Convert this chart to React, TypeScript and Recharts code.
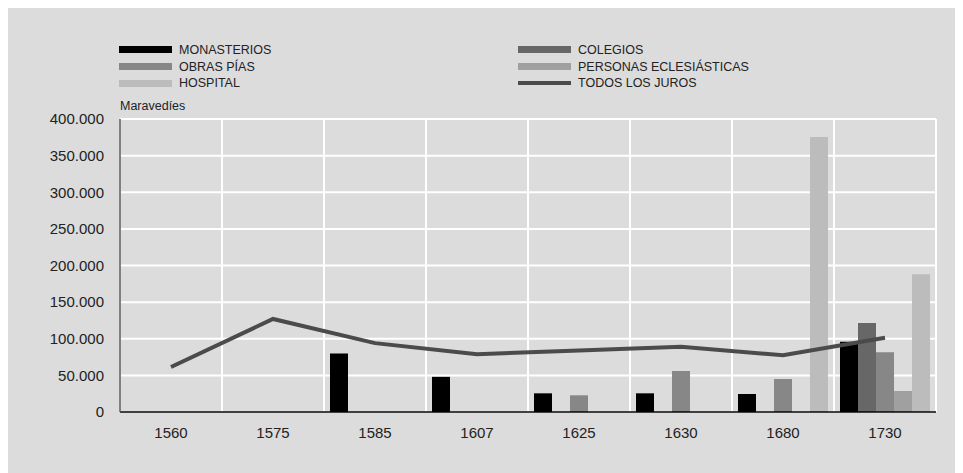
import React from 'react';
import { ComposedChart, Bar, Line, XAxis, YAxis, CartesianGrid } from 'recharts';

const categories = ['1560', '1575', '1585', '1607', '1625', '1630', '1680', '1730'];
const monasterios = [null, null, 80000, 48000, 25500, 25500, 24600, 96000];
const colegios = [null, null, null, null, null, null, null, 121500];
const obrasPias = [null, null, null, null, 22800, 56000, 45000, 81500];
const personasEclesiasticas = [null, null, null, null, null, null, null, 28700];
const hospital = [null, null, null, null, null, null, 375400, 188000];
const todosLosJuros = [61500, 127000, 94000, 78800, 84000, 89000, 77400, 101400];
const yTicks = [0, 50000, 100000, 150000, 200000, 250000, 300000, 350000, 400000];

const COLORS = {
  monasterios: '#000000',
  colegios: '#676767',
  obrasPias: '#878787',
  personas: '#a0a0a0',
  hospital: '#bcbcbc',
  juros: '#4b4b4b',
};

const data = categories.map((c, i) => ({
  year: c,
  monasterios: monasterios[i],
  colegios: colegios[i],
  obrasPias: obrasPias[i],
  personas: personasEclesiasticas[i],
  hospital: hospital[i],
  juros: todosLosJuros[i],
}));

const fmt = (v: number) => String(v).replace(/\B(?=(\d{3})+(?!\d))/g, '.');

const FONT = '"Liberation Sans", Arial, Helvetica, sans-serif';

const legendLeft = [
  { label: 'MONASTERIOS', color: COLORS.monasterios, line: false },
  { label: 'OBRAS PÍAS', color: COLORS.obrasPias, line: false },
  { label: 'HOSPITAL', color: COLORS.hospital, line: false },
];
const legendRight = [
  { label: 'COLEGIOS', color: COLORS.colegios, line: false },
  { label: 'PERSONAS ECLESIÁSTICAS', color: COLORS.personas, line: false },
  { label: 'TODOS LOS JUROS', color: COLORS.juros, line: true },
];
const rowCenters = [41.5, 58.8, 75.2];

function LegendItem({ x, y, item }: any) {
  return (
    <div style={{ position: 'absolute', left: x, top: y - 9, height: 18, display: 'flex', alignItems: 'center' }}>
      <div style={{ width: 53, height: item.line ? 4 : 7, background: item.color }} />
      <span style={{ marginLeft: 7, fontFamily: FONT, fontSize: 12.5, color: '#222', whiteSpace: 'nowrap' }}>{item.label}</span>
    </div>
  );
}

export default function App() {
  return (
    <div style={{ position: 'relative', width: 955, height: 465, background: '#dcdcdc' }}>
      {legendLeft.map((it, i) => (
        <LegendItem key={it.label} x={111} y={rowCenters[i]} item={it} />
      ))}
      {legendRight.map((it, i) => (
        <LegendItem key={it.label} x={510} y={rowCenters[i]} item={it} />
      ))}
      <div style={{ position: 'absolute', left: 112, top: 91, fontFamily: FONT, fontSize: 12.5, color: '#222' }}>Maravedíes</div>
      <ComposedChart
        width={955}
        height={465}
        data={data}
        margin={{ top: 111, right: 27, bottom: 31, left: 0 }}
        barCategoryGap={6}
        barGap={0}
        style={{ position: 'absolute', left: 0, top: 0 }}
      >
        <CartesianGrid
          stroke="#ffffff"
          strokeWidth={2}
          verticalCoordinatesGenerator={({ offset }: any) =>
            Array.from({ length: categories.length + 1 }, (_, i) => offset.left + (i * offset.width) / categories.length)
          }
        />
        <XAxis
          dataKey="year"
          height={30}
          tickLine={false}
          tickSize={0}
          tickMargin={15}
          axisLine={{ stroke: '#000', strokeWidth: 1.5 }}
          tick={{ fill: '#222', fontSize: 15, fontFamily: FONT }}
          interval={0}
        />
        <YAxis
          width={112}
          domain={[0, 400000]}
          ticks={yTicks}
          tickFormatter={fmt}
          tickLine={false}
          tickSize={0}
          tickMargin={16}
          axisLine={{ stroke: '#555', strokeWidth: 1.5 }}
          tick={{ fill: '#222', fontSize: 15, fontFamily: FONT }}
          interval={0}
        />
        <Bar dataKey="monasterios" fill={COLORS.monasterios} isAnimationActive={false} />
        <Bar dataKey="colegios" fill={COLORS.colegios} isAnimationActive={false} />
        <Bar dataKey="obrasPias" fill={COLORS.obrasPias} isAnimationActive={false} />
        <Bar dataKey="personas" fill={COLORS.personas} isAnimationActive={false} />
        <Bar dataKey="hospital" fill={COLORS.hospital} isAnimationActive={false} />
        <Line
          dataKey="juros"
          type="linear"
          stroke={COLORS.juros}
          strokeWidth={4}
          dot={false}
          activeDot={false}
          isAnimationActive={false}
        />
      </ComposedChart>
    </div>
  );
}
